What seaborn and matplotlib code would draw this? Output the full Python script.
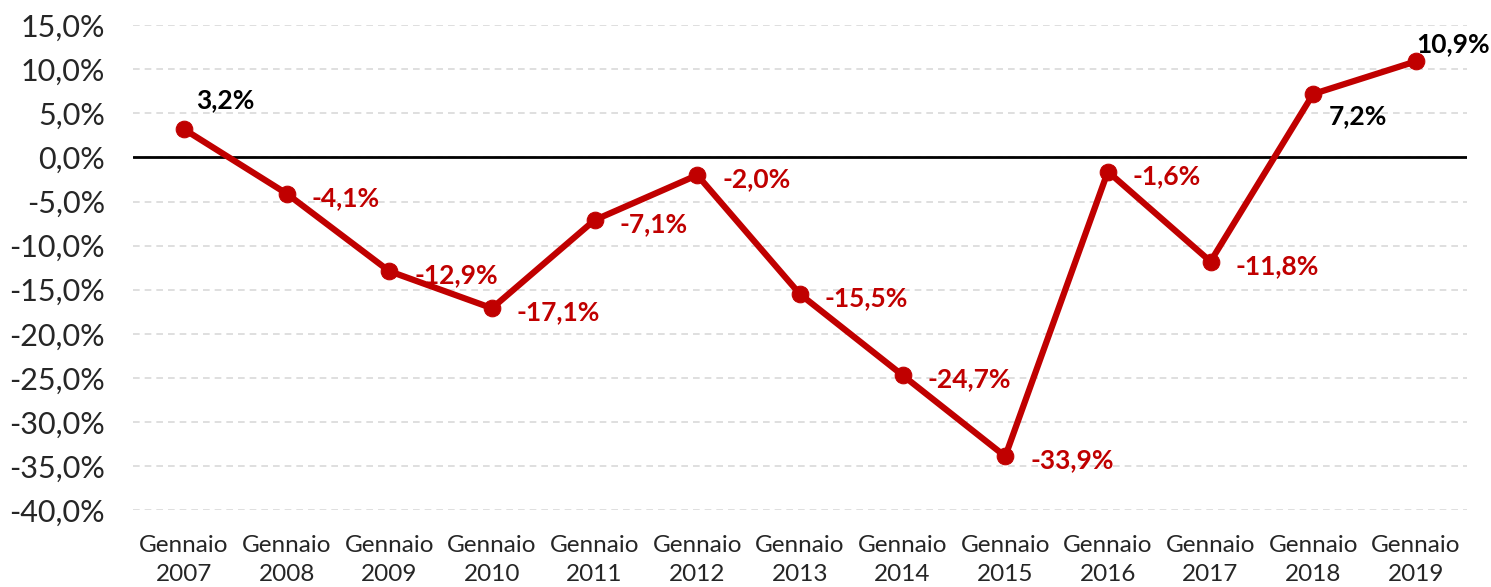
import numpy as np
import pandas as pd
import matplotlib.pyplot as plt
import seaborn as sns

# --- Data ---
YEARS = ['2007', '2008', '2009', '2010', '2011', '2012', '2013',
         '2014', '2015', '2016', '2017', '2018', '2019']
MONTH = 'Gennaio'
VALUES = [3.2, -4.1, -12.9, -17.1, -7.1, -2.0, -15.5,
          -24.7, -33.9, -1.6, -11.8, 7.2, 10.9]

RED = '#C00000'

df = pd.DataFrame({'label': [f'{MONTH}\n{y}' for y in YEARS], 'value': VALUES})

sns.set_style('white')
plt.rcParams['font.family'] = ['Lato', 'DejaVu Sans']

fig = plt.figure(figsize=(14.91, 5.87), dpi=100)
ax = fig.add_axes([0.089, 0.131, 0.895, 0.826])

ax.set_ylim(-40, 15)
ax.set_yticks(np.arange(-40, 16, 5))
ax.yaxis.grid(True, color='#D9D9D9', linestyle=(0, (4, 3)), linewidth=1.2)
ax.set_axisbelow(True)

ax.axhline(0, color='black', linewidth=2, zorder=1)

sns.lineplot(data=df, x='label', y='value', sort=False, color=RED,
             linewidth=4.5, marker='o', markersize=12, markeredgecolor=RED,
             ax=ax, zorder=3)

ax.set_xlim(-0.5, len(YEARS) - 0.5)

# data labels: positives in black, negatives in red
last = len(VALUES) - 1
for i, v in enumerate(VALUES):
    txt = f'{v:.1f}%'.replace('.', ',')
    if v < 0:
        off, va, col = (18, -3), 'center', RED
    elif i == last - 1:
        off, va, col = (11, -7), 'top', 'black'
    elif i == last:
        off, va, col = (0, 4), 'bottom', 'black'
    else:
        off, va, col = (9, 12), 'bottom', 'black'
    ax.annotate(txt, (i, v), xytext=off, textcoords='offset points',
                ha='left', va=va, fontsize=19, fontweight='bold', color=col)

ax.set_yticklabels([f'{t:.1f}%'.replace('.', ',') for t in np.arange(-40, 16, 5)])
ax.tick_params(axis='y', labelsize=22, length=0, pad=20)
ax.tick_params(axis='x', labelsize=17.5, length=0, pad=18)
for t in ax.get_xticklabels():
    t.set_linespacing(1.45)
ax.set_xlabel('')
ax.set_ylabel('')
for s in ax.spines.values():
    s.set_visible(False)

fig.savefig('out.png', dpi=100)
